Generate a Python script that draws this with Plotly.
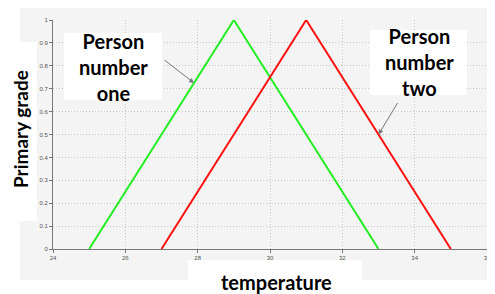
import plotly.graph_objects as go

# Data
temps_one = [25, 29, 33]
grade_one = [0, 1, 0]
temps_two = [27, 31, 35]
grade_two = [0, 1, 0]
x_ticks = [24, 26, 28, 30, 32, 34, 36]
y_ticks = [0, 0.1, 0.2, 0.3, 0.4, 0.5, 0.6, 0.7, 0.8, 0.9, 1]
y_tick_text = ["0", "0.1", "0.2", "0.3", "0.4", "0.5", "0.6", "0.7", "0.8", "0.9", "1"]

# The page body has an 8px margin, so the figure is shifted by OFF.
OFF = 8
W, H = 495 - OFF, 294 - OFF
# target plot area in page pixels: x 53..487, y 20..249
PL, PR, PT, PB = 53, 487, 20, 249
L, T = PL - OFF, PT - OFF
PW, PH = PR - PL, PB - PT
R, B = W - L - PW, H - T - PH

def px(x):
    return (x - PL) / PW

def py(y):
    return (PB - y) / PH

fig = go.Figure()
fig.add_trace(go.Scatter(x=temps_one, y=grade_one, mode="lines",
                         line=dict(color="#22ee22", width=2), showlegend=False))
fig.add_trace(go.Scatter(x=temps_two, y=grade_two, mode="lines",
                         line=dict(color="#ff1111", width=2), showlegend=False))

shapes = [
    dict(type="rect", xref="paper", yref="paper", x0=px(20), x1=px(500), y0=py(280), y1=py(5),
         fillcolor="#f4f4f4", line=dict(width=0), layer="below"),
    dict(type="rect", xref="paper", yref="paper", x0=px(0), x1=px(37), y0=py(221), y1=py(42),
         fillcolor="white", line=dict(width=0), layer="below"),
    dict(type="rect", xref="paper", yref="paper", x0=px(188), x1=px(362), y0=py(300), y1=py(260),
         fillcolor="white", line=dict(width=0), layer="above"),
    dict(type="rect", xref="paper", yref="paper", x0=px(64), x1=px(162), y0=py(100), y1=py(33),
         fillcolor="white", line=dict(width=0), layer="above"),
    dict(type="rect", xref="paper", yref="paper", x0=px(370), x1=px(467), y0=py(95), y1=py(30),
         fillcolor="white", line=dict(width=0), layer="above"),
]

FONT = "Lato"
def label(text, x, y, size, angle=0):
    return dict(text=text, xref="paper", yref="paper", x=px(x), y=py(y),
                xanchor="center", yanchor="middle", showarrow=False, textangle=angle,
                font=dict(family=FONT, size=size, color="black"), align="center")

annotations = [
    label("<b>Person<br>number<br>one</b>", 113, 67, 20),
    label("<b>Person<br>number<br>two</b>", 419, 62, 20),
    label("<b>temperature</b>", 276, 282, 20),
    label("<b>Primary grade</b>", 20, 129, 19, angle=-90),
    dict(text="", x=27.9, y=0.725, xref="x", yref="y", showarrow=True, ax=-31, ay=-24,
         arrowcolor="#777777", arrowwidth=1, arrowhead=2, arrowsize=1),
    dict(text="", x=33.0, y=0.5, xref="x", yref="y", showarrow=True, ax=20, ay=-33,
         arrowcolor="#777777", arrowwidth=1, arrowhead=2, arrowsize=1),
]

axis_common = dict(showgrid=True, gridcolor="#c8c8c8", griddash="1px,2px", gridwidth=1,
                   showline=True, linecolor="#777777", linewidth=1, ticks="outside",
                   ticklen=3, tickcolor="#777777", zeroline=False,
                   tickfont=dict(size=6, color="#555555", family="Liberation Sans"))

fig.update_layout(
    width=W, height=H,
    margin=dict(l=L, r=R, t=T, b=B, autoexpand=False),
    paper_bgcolor="white",
    plot_bgcolor="rgba(0,0,0,0)",
    shapes=shapes,
    annotations=annotations,
    xaxis=dict(range=[24, 36], tickvals=x_ticks, **axis_common),
    yaxis=dict(range=[0, 1], tickvals=y_ticks, ticktext=y_tick_text, **axis_common),
)

fig.write_html("out.html")
